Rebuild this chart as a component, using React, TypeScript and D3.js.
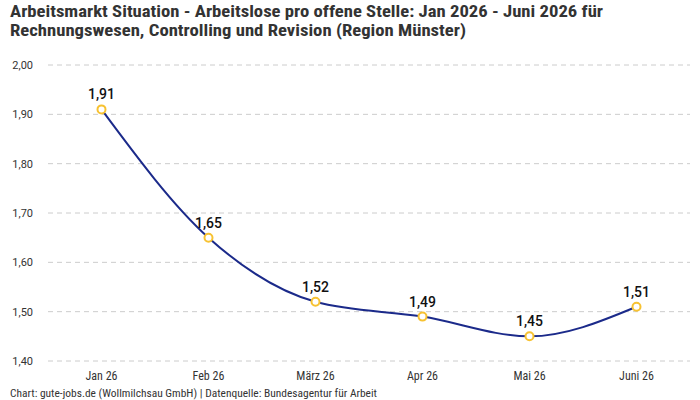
import React from "react";
import * as d3 from "d3";

const categories = ["Jan 26", "Feb 26", "März 26", "Apr 26", "Mai 26", "Juni 26"];
const values = [1.91, 1.65, 1.52, 1.49, 1.45, 1.51];
const yTicks = [1.4, 1.5, 1.6, 1.7, 1.8, 1.9, 2.0];

const W = 700, H = 400;
const left = 48, right = 690, top = 65, bottom = 361;

export default function App() {
  const x = d3.scalePoint<string>().domain(categories).range([left, right]).padding(0.5);
  const y = d3.scaleLinear().domain([1.4, 2.0]).range([bottom, top]);
  const line = d3.line<number>()
    .x((_, i) => x(categories[i]) as number)
    .y((d) => y(d))
    .curve(d3.curveMonotoneX);
  const fmt = (v: number) => v.toFixed(2).replace(".", ",");
  const cond = "'Roboto Condensed', 'Liberation Sans Narrow', 'Arial Narrow', Roboto, sans-serif";
  return (
    <svg width={W} height={H} style={{ position: "absolute", left: 0, top: 0, background: "#fff" }}>
      <text x={10} y={17} fontFamily={cond} fontWeight="bold" fontSize={16} fill="#333" textLength={593} lengthAdjust="spacingAndGlyphs">
        Arbeitsmarkt Situation - Arbeitslose pro offene Stelle: Jan 2026 - Juni 2026 für
      </text>
      <text x={10} y={36} fontFamily={cond} fontWeight="bold" fontSize={16} fill="#333" textLength={456} lengthAdjust="spacingAndGlyphs">
        Rechnungswesen, Controlling und Revision (Region Münster)
      </text>
      {yTicks.map((t) => (
        <g key={t}>
          <line x1={left} x2={right} y1={y(t)} y2={y(t)} stroke="#ccc" strokeDasharray="5,4" strokeWidth={1} />
          <text x={33} y={y(t) + 4} textAnchor="end" fontFamily="Roboto, sans-serif" fontSize={11} fill="#333">
            {fmt(t)}
          </text>
        </g>
      ))}
      {categories.map((c) => (
        <text key={c} x={x(c)} y={380} textAnchor="middle" fontFamily={cond} fontSize={12} fill="#333">
          {c}
        </text>
      ))}
      <path d={line(values) || ""} fill="none" stroke="#1b2a8a" strokeWidth={2} />
      {values.map((v, i) => (
        <g key={i}>
          <circle cx={x(categories[i])} cy={y(v)} r={4} fill="#fff" stroke="#f7c232" strokeWidth={2} />
          <text x={x(categories[i])} y={y(v) - 10} textAnchor="middle" fontFamily="Roboto, sans-serif" fontWeight={500} fontSize={14} fill="#111">
            {fmt(v)}
          </text>
        </g>
      ))}
      <text x={10} y={397} fontFamily={cond} fontSize={11} fill="#333" textLength={367} lengthAdjust="spacingAndGlyphs">
        Chart: gute-jobs.de (Wollmilchsau GmbH) | Datenquelle: Bundesagentur für Arbeit
      </text>
    </svg>
  );
}
